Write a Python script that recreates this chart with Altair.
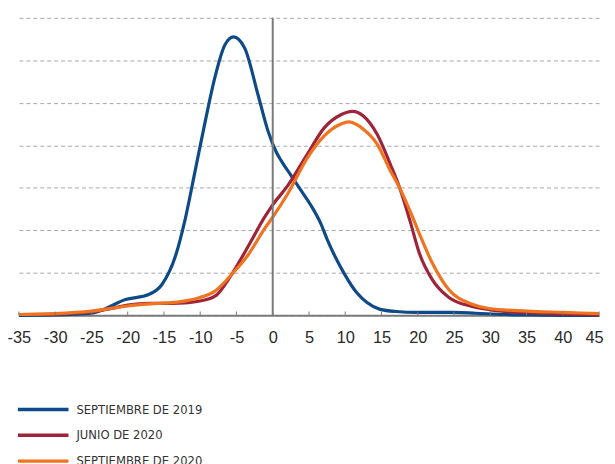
import altair as alt
import pandas as pd

series_names = ["SEPTIEMBRE DE 2019", "JUNIO DE 2020", "SEPTIEMBRE DE 2020"]
series_colors = ["#0d4a87", "#9e2439", "#f0731f"]

sep19_x = [-35, -30, -25, -23.9, -20.3, -17.1, -15.3, -13.4, -12.1, -10.7, -9.3, -8.0, -6.6, -5.4, -3.85,
           -2.03, -0.66, 0.47, 1.16, 2.53, 3.9, 5.26, 6.6, 7.55, 9.8, 11.6, 13, 14.8, 17, 20, 25, 28, 32, 35, 40, 45]
sep19_y = [0.0, 0.01, 0.05, 0.1, 0.37, 0.49, 0.72, 1.4, 2.24, 3.4, 4.57, 5.58, 6.36, 6.55, 6.28,
           5.19, 4.34, 3.85, 3.64, 3.29, 2.94, 2.59, 2.17, 1.77, 1.0, 0.53, 0.3, 0.14, 0.09, 0.07, 0.07, 0.05, 0.02, 0.01, 0.0, 0.0]

jun20_x = [-35, -30, -25, -22, -20, -17, -14, -12, -10.24, -7.96, -5.68, -3.4, -1.12, 0, 2.07, 4.8,
           7.1, 9.4, 11.0, 12.5, 14.4, 16.2, 17.5, 18.9, 20.2, 22.0, 24.3, 27.5, 30, 35, 40, 45]
jun20_y = [0.02, 0.03, 0.08, 0.17, 0.24, 0.28, 0.28, 0.29, 0.33, 0.45, 0.96, 1.62, 2.31, 2.6, 3.05, 3.8,
           4.41, 4.72, 4.8, 4.69, 4.26, 3.56, 3.0, 2.24, 1.47, 0.84, 0.42, 0.21, 0.13, 0.06, 0.03, 0.01]

sep20_x = [-35, -30, -25, -22, -20, -17, -14, -12, -10.24, -7.96, -5.68, -3.4, -1.12, 0, 2.07, 4.8,
           7.1, 9.4, 10.5, 12.5, 14.4, 16.2, 17.5, 18.9, 20.2, 22.0, 24.3, 27.5, 29.8, 35, 40, 45]
sep20_y = [0.02, 0.04, 0.1, 0.17, 0.22, 0.27, 0.3, 0.34, 0.41, 0.57, 0.96, 1.42, 2.04, 2.31, 2.86, 3.71,
           4.22, 4.5, 4.55, 4.38, 4.03, 3.41, 3.0, 2.47, 1.93, 1.23, 0.6, 0.26, 0.16, 0.1, 0.07, 0.04]

x_ticks = list(range(-35, 50, 5))
y_grid = [0, 1, 2, 3, 4, 5, 6, 7]

rows = []
for name, xs, ys in zip(series_names, [sep19_x, jun20_x, sep20_x], [sep19_y, jun20_y, sep20_y]):
    for i, (a, b) in enumerate(zip(xs, ys)):
        rows.append({"serie": name, "x": a, "y": b, "i": i})
df = pd.DataFrame(rows)

x_scale = alt.Scale(domain=[-35, 45], nice=False, zero=False)
y_scale = alt.Scale(domain=[0, 7], nice=False)

x_axis = alt.Axis(
    values=x_ticks, title=None, ticks=False, grid=False, labelFontSize=16.5,
    labelColor="#2a2a2a", labelFont="Liberation Sans", labelPadding=14,
    labelOverlap=False, labelFlush=False, labelBound=False,
    labelExpr="'' + datum.value",
    labelOffset={"condition": {"test": "datum.value == 45", "value": -5}, "value": 0},
    domainColor="#7a7a7a", domainWidth=2)
y_axis = alt.Axis(
    values=y_grid, title=None, labels=False, ticks=False, domain=False,
    grid=True, gridColor="#a8a8a8", gridDash=[4, 3], gridWidth=1)

lines = alt.Chart(df).mark_line(strokeWidth=3.2, interpolate="monotone").encode(
    x=alt.X("x:Q", scale=x_scale, axis=x_axis),
    y=alt.Y("y:Q", scale=y_scale, axis=y_axis),
    color=alt.Color("serie:N", scale=alt.Scale(domain=series_names, range=series_colors),
                    legend=alt.Legend(title=None, orient="none", legendX=17.5, legendY=388,
                                      direction="vertical", symbolType="M-5.1,0H5.1",
                                      symbolSize=100, symbolStrokeWidth=3.5,
                                      labelFont="DejaVu Sans Condensed, Liberation Sans",
                                      labelFontSize=13,
                                      labelColor="#333333", rowPadding=12, padding=0,
                                      labelOffset=26.5)),
    order=alt.Order("i:Q"),
)

vline = alt.Chart(pd.DataFrame({"x": [0], "y": [0], "y2": [7]})).mark_rule(
    color="#7a7a7a", strokeWidth=2).encode(
    x=alt.X("x:Q", scale=x_scale, axis=x_axis),
    y=alt.Y("y:Q", scale=y_scale, axis=y_axis), y2="y2:Q")

tick_df = pd.DataFrame({"x": x_ticks, "y": [0] * len(x_ticks), "y2": [0.09] * len(x_ticks)})
ticks = alt.Chart(tick_df).mark_rule(color="#7a7a7a", strokeWidth=1).encode(
    x=alt.X("x:Q", scale=x_scale, axis=x_axis),
    y=alt.Y("y:Q", scale=y_scale, axis=y_axis), y2="y2:Q")

chart = alt.layer(lines, vline, ticks).properties(
    width=585, height=300,
    autosize=alt.AutoSizeParams(type="none"),
    padding={"left": 11, "top": 8, "right": 8, "bottom": 148},
).configure_view(stroke=None)

chart.save("out.html", embed_options={"renderer": "svg", "actions": False})
